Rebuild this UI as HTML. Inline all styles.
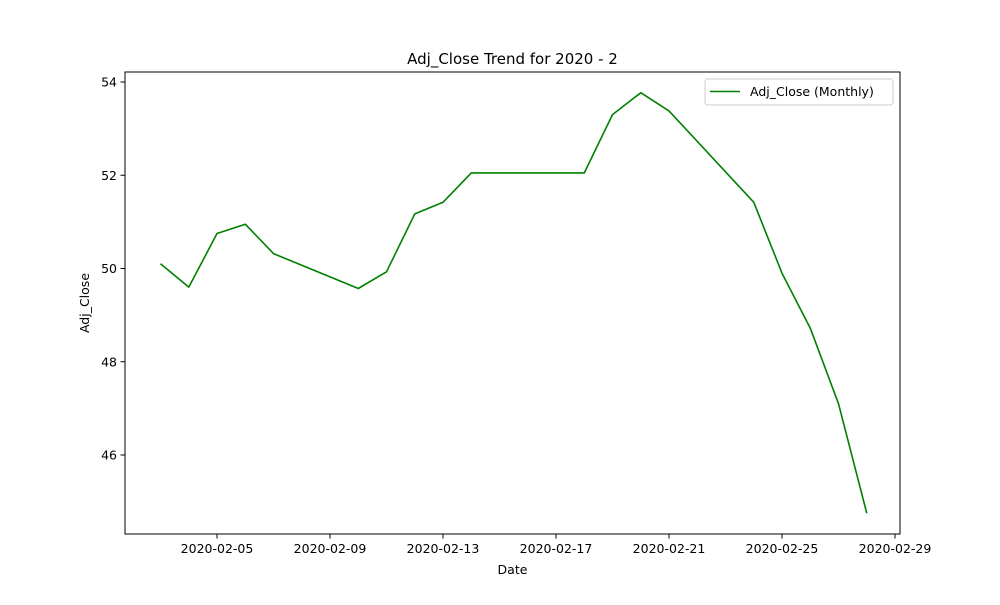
<!DOCTYPE html>
<html><head><meta charset="utf-8"><style>
body{margin:0;background:#fff;font-family:"Liberation Sans","DejaVu Sans",sans-serif;}
svg text{font-family:"DejaVu Sans","Liberation Sans",sans-serif;}
</style></head><body>
<svg id="chart" width="1000" height="600" xmlns="http://www.w3.org/2000/svg"></svg>
<script>
const dates = ["2020-02-03","2020-02-04","2020-02-05","2020-02-06","2020-02-07","2020-02-10","2020-02-11","2020-02-12","2020-02-13","2020-02-14","2020-02-18","2020-02-19","2020-02-20","2020-02-21","2020-02-24","2020-02-25","2020-02-26","2020-02-27","2020-02-28"];
const values = [50.1,49.6,50.75,50.95,50.32,49.57,49.93,51.17,51.42,52.05,52.05,53.3,53.77,53.38,51.42,49.9,48.72,47.1,44.75];
const xTicks = ["2020-02-05","2020-02-09","2020-02-13","2020-02-17","2020-02-21","2020-02-25","2020-02-29"];
const yTicks = [46,48,50,52,54];

const svg = document.getElementById('chart');
const NS = "http://www.w3.org/2000/svg";
const L=125,R=900,T=72,B=534;
const day0 = Date.UTC(2020,1,5);
function dayOf(s){const p=s.split('-');return (Date.UTC(+p[0],+p[1]-1,+p[2])-day0)/86400000;}
function xs(s){return 217+dayOf(s)*28.25;}
function ys(v){return 455-(v-46)*46.625;}
function mk(tag,attrs,parent){const e=document.createElementNS(NS,tag);for(const k in attrs)e.setAttribute(k,attrs[k]);(parent||svg).appendChild(e);return e;}

const frame = mk('rect',{x:L,y:T,width:R-L,height:B-T,fill:'none',stroke:'#000','stroke-width':1});



xTicks.forEach(t=>{
  const x=xs(t);
  const g=mk('g',{});
  
  
  mk('line',{x1:x,x2:x,y1:B,y2:B+4.5,stroke:'#000'},g);
  const tx=mk('text',{x:x,y:B+19,'font-size':12.5,'text-anchor':'middle'},g);
  tx.textContent=t;
});
yTicks.forEach(v=>{
  const y=ys(v);
  const g=mk('g',{});
  
  
  mk('line',{x1:L-4.5,x2:L,y1:y,y2:y,stroke:'#000'},g);
  const tx=mk('text',{x:L-8,y:y+4.5,'font-size':12.5,'text-anchor':'end'},g);
  tx.textContent=v;
});

const pts=dates.map((d,i)=>xs(d).toFixed(1)+','+ys(values[i]).toFixed(1)).join(' ');
const line=mk('polyline',{points:pts,fill:'none',stroke:'#008000','stroke-width':1.6,'stroke-linejoin':'round'});



const title=mk('text',{x:512.5,y:64,'font-size':15,'text-anchor':'middle'});
title.textContent='Adj_Close Trend for 2020 - 2';



const xl=mk('text',{x:512.5,y:574,'font-size':12.5,'text-anchor':'middle'});
xl.textContent='Date';



const yl=mk('text',{x:89,y:303,'font-size':12.5,'text-anchor':'middle',transform:'rotate(-90 89 303)'});
yl.textContent='Adj_Close';



const lg=mk('g',{});


mk('rect',{x:705,y:79,width:188,height:26,rx:3,fill:'#fff',stroke:'#ccc'},lg);
mk('line',{x1:710,x2:740,y1:91.5,y2:91.5,stroke:'#008000','stroke-width':1.6},lg);
const lt=mk('text',{x:750,y:96,'font-size':12.5},lg);
lt.textContent='Adj_Close (Monthly)';
</script>
</body></html>
